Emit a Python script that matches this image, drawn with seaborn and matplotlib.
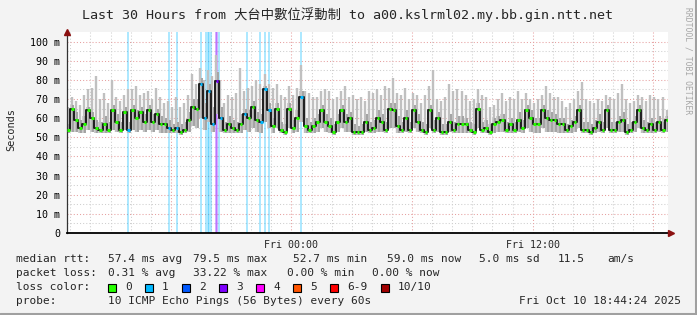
import numpy as np
import pandas as pd
import matplotlib
matplotlib.use("Agg")
import matplotlib.pyplot as plt
import matplotlib.dates as mdates
from matplotlib.lines import Line2D
from matplotlib.patches import Rectangle
from matplotlib.ticker import FuncFormatter, FixedLocator
import seaborn as sns

sns.set_style("white")
plt.rcParams['font.family'] = ['DejaVu Sans Mono', 'Noto Sans CJK TC']

# ---------------- data ----------------
sample_start = "2025-10-09 12:54"
sample_step = "12min"

median_ms = [54, 65, 59, 55, 57, 64, 60, 55, 54, 57,
             54, 64, 58, 54, 63, 54, 64, 60, 63, 58,
             64, 58, 62, 57, 57, 55, 54, 55, 53, 54,
             59, 66, 65, 78, 60, 74, 57, 79.5, 60, 54,
             57, 55, 54, 57, 62, 60, 66, 59, 58, 75,
             64, 56, 65, 54, 53, 65, 55, 60, 71, 56,
             54, 56, 58, 64, 58, 56, 53, 58, 64, 58,
             60, 53, 52.7, 53, 58, 54, 55, 60, 58, 54,
             65, 64, 56, 54, 60, 54, 64, 58, 54, 53,
             64, 54, 60, 53, 53, 58, 54, 57, 57, 57,
             54, 53, 65, 54, 55, 53, 57, 58, 59, 54,
             57, 54, 59, 55, 64, 60, 57, 57, 64, 60,
             59, 59, 57, 57, 54, 56, 58, 64, 54, 54,
             53, 55, 58, 54, 64, 54, 54, 58, 59, 53,
             54, 58, 64, 55, 54, 57, 54, 58, 54, 59]

smoke_max_ms = [66, 71, 69, 67, 72, 75, 76, 82, 70, 73,
                68, 80, 71, 69, 72, 75, 75, 77, 72, 73,
                74, 70, 76, 71, 68, 69, 66, 71, 66, 68,
                72, 83, 78, 86, 80, 85, 82, 93, 80, 68,
                72, 71, 73, 86, 74, 76, 77, 80, 78, 83,
                78, 76, 78, 72, 71, 77, 72, 76, 88, 74,
                73, 71, 71, 74, 75, 74, 70, 71, 74, 77,
                71, 72, 70, 71, 69, 74, 73, 75, 72, 77,
                76, 81, 73, 72, 76, 70, 73, 72, 68, 72,
                77, 85, 70, 69, 71, 78, 74, 75, 74, 72,
                69, 70, 75, 72, 71, 66, 67, 70, 73, 69,
                71, 70, 74, 70, 73, 70, 68, 70, 72, 77,
                73, 71, 71, 69, 66, 68, 70, 74, 79, 70,
                69, 68, 70, 69, 72, 71, 70, 73, 78, 70,
                68, 69, 72, 71, 69, 72, 71, 70, 71, 64]

smoke_mid_ms = [57, 67, 63, 59, 61, 66, 63, 59, 58, 61,
                58, 67, 62, 58, 66, 58, 67, 64, 66, 62,
                67, 62, 65, 61, 60, 59, 57, 58, 57, 58,
                63, 70, 70, 81, 68, 78, 66, 84, 66, 58,
                61, 59, 58, 62, 65, 64, 69, 63, 62, 77,
                68, 60, 68, 58, 57, 68, 59, 64, 74, 60,
                58, 60, 62, 67, 62, 60, 57, 62, 67, 62,
                63, 57, 56, 57, 62, 58, 59, 64, 62, 58,
                68, 68, 61, 58, 64, 58, 67, 62, 58, 57,
                67, 59, 63, 57, 57, 62, 58, 61, 61, 60,
                58, 57, 68, 58, 59, 57, 60, 61, 62, 58,
                60, 58, 63, 59, 67, 64, 60, 60, 67, 64,
                63, 62, 60, 60, 57, 59, 61, 67, 58, 58,
                57, 59, 62, 58, 67, 58, 58, 61, 63, 57,
                58, 61, 67, 59, 58, 60, 58, 61, 58, 61]

smoke_min_ms = [52, 53, 53, 52, 52, 54, 53, 52, 52, 52,
                52, 54, 53, 52, 54, 52, 54, 53, 54, 53,
                54, 53, 54, 52, 52, 52, 52, 52, 51, 52,
                53, 56, 55, 60, 54, 58, 53, 62, 53, 52,
                52, 52, 52, 52, 54, 53, 55, 53, 52, 58,
                55, 52, 55, 52, 51, 55, 52, 53, 58, 52,
                52, 52, 53, 55, 53, 52, 51, 53, 55, 53,
                53, 51, 51, 51, 53, 52, 52, 53, 53, 52,
                55, 55, 52, 52, 53, 52, 55, 53, 52, 51,
                55, 52, 53, 51, 51, 53, 52, 52, 52, 52,
                52, 51, 55, 52, 52, 51, 52, 53, 53, 52,
                52, 52, 53, 52, 55, 53, 52, 52, 55, 53,
                53, 53, 52, 52, 52, 52, 53, 55, 52, 52,
                51, 52, 53, 52, 55, 52, 52, 53, 53, 51,
                52, 53, 55, 52, 52, 52, 52, 53, 52, 53]

loss_times = ["2025-10-09 15:52", "2025-10-09 17:54", "2025-10-09 18:18",
              "2025-10-09 19:30", "2025-10-09 19:45", "2025-10-09 19:50",
              "2025-10-09 19:54", "2025-10-09 20:00", "2025-10-09 20:15",
              "2025-10-09 20:18", "2025-10-09 20:24", "2025-10-09 21:47",
              "2025-10-09 22:26", "2025-10-09 22:41", "2025-10-09 22:53",
              "2025-10-10 00:28"]
loss_counts = [1, 1, 1, 1, 1, 1, 1, 1, 3, 3, 1, 1, 1, 1, 1, 1]

legend_labels = ["0", "1", "2", "3", "4", "5", "6-9", "10/10"]
legend_colors = ["#26ff00", "#00b8ff", "#0059ff", "#7e00ff",
                 "#ff00ff", "#ff5500", "#ff0000", "#a10000"]
loss_color_by_count = {0: "#26ff00", 1: "#00b8ff", 2: "#0059ff", 3: "#7e00ff",
                       4: "#ff00ff", 5: "#ff5500"}

view_start = "2025-10-09 12:50"
view_end = "2025-10-10 18:44"

title = "Last 30 Hours from 大台中數位浮動制 to a00.kslrml02.my.bb.gin.ntt.net"
rtt_label = "median rtt:"
rtt_values = ["57.4 ms avg", "79.5 ms max", "52.7 ms min", "59.0 ms now",
              "5.0 ms sd", "11.5", "am/s"]
loss_label = "packet loss:"
loss_values = ["0.31 % avg", "33.22 % max", "0.00 % min", "0.00 % now"]
probe_label = "probe:"
probe_text = "10 ICMP Echo Pings (56 Bytes) every 60s"
stamp_text = "Fri Oct 10 18:44:24 2025"
ytick_vals = [0, 10, 20, 30, 40, 50, 60, 70, 80, 90, 100]

# ---------------- figure ----------------
W, H = 697, 315
fig = plt.figure(figsize=(W / 100, H / 100), dpi=100)
fig.patch.set_facecolor("#f3f3f3")

L, R, T, B = 67, 668, 32, 233
ax = fig.add_axes([L / W, 1 - B / H, (R - L) / W, (B - T) / H])
ax.set_facecolor("white")

times = pd.date_range(sample_start, periods=len(median_ms), freq=sample_step)
xnum = mdates.date2num(times.to_pydatetime())
df = pd.DataFrame({"t": xnum, "median": median_ms, "lo": smoke_min_ms,
                   "mid": smoke_mid_ms, "hi": smoke_max_ms})
step_days = 12 / 1440.0

x0 = mdates.date2num(pd.Timestamp(view_start).to_pydatetime())
x1 = mdates.date2num(pd.Timestamp(view_end).to_pydatetime())
ax.set_xlim(x0, x1)
ax.set_ylim(0, 105)

# grid
gray = "#cfcfcf"
red = "#e6a0a0"
for v in np.arange(5, 105, 10):
    ax.axhline(v, color=gray, lw=0.75, ls=(0, (1, 2)), zorder=0.5)
for v in np.arange(10, 105, 10):
    ax.axhline(v, color=red, lw=0.75, ls=(0, (1, 2)), zorder=0.6)
hours = pd.date_range("2025-10-09 13:00", "2025-10-10 18:00", freq="1h")
for h in hours:
    xv = mdates.date2num(h.to_pydatetime())
    if h.hour % 6 == 0:
        ax.axvline(xv, color=red, lw=0.75, ls=(0, (1, 2)), zorder=0.6)
    else:
        ax.axvline(xv, color=gray, lw=0.75, ls=(0, (1, 2)), zorder=0.5)

# loss bars
loss_per_sample = np.zeros(len(median_ms), dtype=int)
for ts, c in zip(loss_times, loss_counts):
    xv = mdates.date2num(pd.Timestamp(ts).to_pydatetime())
    ax.axvspan(xv - 3.5 / 1440, xv + 3.5 / 1440, color=loss_color_by_count[c],
               alpha=0.32, lw=0, zorder=1)
    idx = int(round((xv - xnum[0]) / step_days))
    if 0 <= idx < len(median_ms):
        loss_per_sample[idx] = max(loss_per_sample[idx], c)

# smoke: light band, spikes to the max, darker core
ax.fill_between(df["t"], df["lo"], df["mid"], step="mid", color="#d0d0d0",
                lw=0, zorder=2)
ax.vlines(df["t"] - step_days * 0.2, df["lo"], df["hi"], colors="#c0c0c0",
          lw=1.7, zorder=2.2)
ax.vlines(df["t"] + step_days * 0.25, df["lo"], df["mid"], colors="#9a9a9a",
          lw=1.1, zorder=2.4)

# median line
sns.lineplot(data=df, x="t", y="median", drawstyle="steps-mid",
             color="#1e1e1e", linewidth=1.4, ax=ax, zorder=4)
dash_colors = [loss_color_by_count[c] for c in loss_per_sample]
ax.hlines(df["median"], df["t"] - step_days * 0.3, df["t"] + step_days * 0.3,
          colors=dash_colors, lw=2.2, zorder=5)

# axes styling
for s in ["top", "right"]:
    ax.spines[s].set_visible(False)
ax.spines["left"].set_color("#333333")
ax.spines["bottom"].set_color("black")
ax.spines["left"].set_linewidth(0.9)
ax.spines["bottom"].set_linewidth(1.3)
ax.set_xlabel("")
ax.set_ylabel("")

ax.set_yticks(ytick_vals)
ax.set_yticklabels([("%d m" % v) if v else "0" for v in ytick_vals])
ax.tick_params(axis="y", length=0, pad=5, labelsize=7.2, colors="black")

maj = [mdates.date2num(h.to_pydatetime()) for h in hours if h.hour % 6 == 0]
mnr = [mdates.date2num(h.to_pydatetime()) for h in hours if h.hour % 6 != 0]
ax.xaxis.set_major_locator(FixedLocator(maj))
ax.xaxis.set_minor_locator(FixedLocator(mnr))


def fmt(v, p):
    d = mdates.num2date(v)
    return d.strftime("Fri %H:%M") if d.hour in (0, 12) else ""


ax.xaxis.set_major_formatter(FuncFormatter(fmt))
ax.tick_params(axis="x", which="major", length=3, width=0.8, color=red,
               pad=2, labelsize=7.2)
ax.tick_params(axis="x", which="minor", length=2.5, width=0.7, color="#c0c0c0")

# arrows
ax.plot([0], [1.0], marker="^", markersize=5, color="#8b1010",
        transform=ax.transAxes, clip_on=False, zorder=10)
ax.plot([1.005], [0], marker=">", markersize=5, color="#8b1010",
        transform=ax.transAxes, clip_on=False, zorder=10)


def ftxt(x, y, s, **kw):
    kw.setdefault("fontsize", 8)
    kw.setdefault("va", "center")
    kw.setdefault("ha", "left")
    fig.text(x / W, 1 - y / H, s, **kw)


ftxt(348, 15, title, ha="center", fontsize=9.6)
ftxt(11, 130, "Seconds", ha="center", rotation=90, fontsize=7.4)
ftxt(688, 61, "RRDTOOL / TOBI OETIKER", ha="center", rotation=270,
     fontsize=5.8, color="#a6a6a6")

ftxt(16, 259, rtt_label)
for xs, s in zip([107.5, 193, 293, 387, 479, 558, 607], rtt_values):
    ftxt(xs, 259, s)
ftxt(16, 273, loss_label)
for xs, s in zip([107.5, 193, 287, 372], loss_values):
    ftxt(xs, 273, s)
ftxt(16, 287, "loss color:")
box_x = [108, 145, 182, 219, 256, 293, 330, 381]
for bx, lab, col in zip(box_x, legend_labels, legend_colors):
    fig.add_artist(Rectangle((bx / W, 1 - 291.5 / H), 8 / W, 8 / H,
                             facecolor=col, edgecolor="black", lw=0.8,
                             transform=fig.transFigure))
    ftxt(bx + 17, 287, lab)
ftxt(16, 301, probe_label)
ftxt(107.5, 301, probe_text)
ftxt(681, 301, stamp_text, ha="right")

# frame
fig.add_artist(Line2D([1 - 1.5 / W, 1 - 1.5 / W], [0, 1], color="#a0a0a0",
                      lw=2.2, transform=fig.transFigure))
fig.add_artist(Line2D([0, 1], [1.5 / H, 1.5 / H], color="#a0a0a0",
                      lw=2.2, transform=fig.transFigure))

fig.savefig("out.png", dpi=100, facecolor=fig.get_facecolor())
